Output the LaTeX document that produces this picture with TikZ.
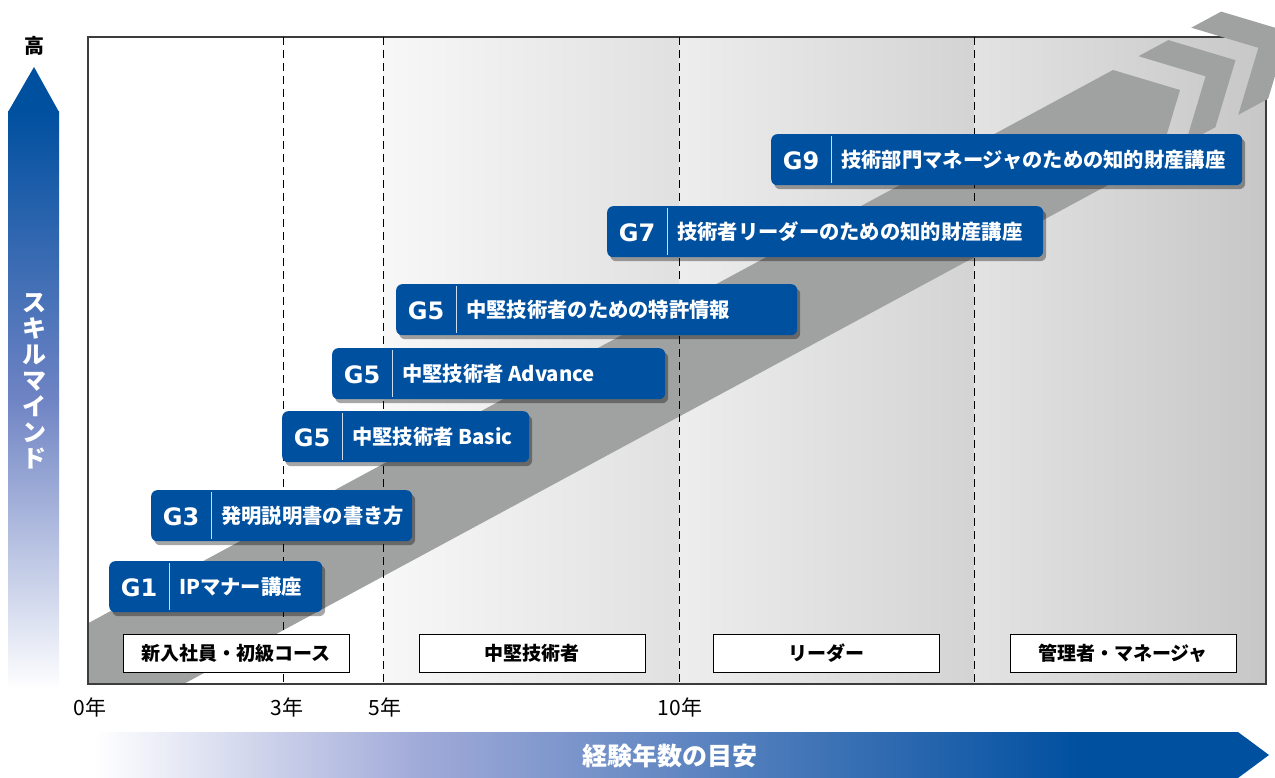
\documentclass[tikz,border=0pt]{standalone}
\usepackage{fontspec}
\setmainfont{Noto Sans CJK JP}
\newfontfamily\gradefont{DejaVu Sans}
\usetikzlibrary{shadows,calc}

\definecolor{ipblue}{HTML}{0050A0}
\definecolor{midblue}{HTML}{6F84C4}
\definecolor{lavender}{HTML}{A0AAD8}
\definecolor{bandgray}{HTML}{A0A1A1}
\definecolor{framegray}{HTML}{3C3C3C}

\begin{document}
\begin{tikzpicture}[x=1pt,y=-1pt,
    course/.style={fill=ipblue, rounded corners=6pt, minimum height=51pt, anchor=north west, inner sep=0pt,
      drop shadow={shadow xshift=3pt, shadow yshift=-4pt, opacity=0.35, fill=black}},
    grade/.style={text=white, font=\gradefont\fontsize{24}{24}\selectfont\bfseries},
    title/.style={text=white, font=\fontsize{20.3}{21}\selectfont\bfseries, anchor=west, inner sep=0pt},
    divline/.style={draw=white!80!ipblue, line width=1pt},
    stage/.style={draw=black, fill=white, line width=0.8pt, minimum width=226pt, minimum height=38pt,
      inner sep=0pt, font=\fontsize{19}{19}\selectfont\bfseries},
    year/.style={font=\fontsize{21}{21}\selectfont},
    yearline/.style={line width=1pt, dash pattern=on 8pt off 5pt}
  ]
  \useasboundingbox (0,0) rectangle (1275,778);
  \clip (0,0) rectangle (1275,778);

  % columns
  \shade[left color=black!3, right color=black!12] (383,37) rectangle (679,684);
  \shade[left color=black!7, right color=black!17] (679,37) rectangle (974,684);
  \shade[left color=black!11, right color=black!22] (974,37) rectangle (1266,684);

  % band and chevrons
  \begin{scope}
    \clip (88,37) rectangle (1266,684);
    \fill[bandgray] (-119,735) -- (1113,70) -- (1180,90) -- (1160,157) -- (-72,822) -- cycle;
  \end{scope}
  \draw[framegray, line width=1.5pt] (88,37) rectangle (1266,684);
  \fill[bandgray] (1138.5,56.2) -- (1168.4,40.1) -- (1235.5,60.2) -- (1215.4,127.2) -- (1185.5,143.3) -- (1205.6,76.3) -- cycle;
  \fill[bandgray] (1191.3,27.7) -- (1221.2,11.6) -- (1288.3,31.7) -- (1268.2,98.7) -- (1238.3,114.8) -- (1258.4,47.8) -- cycle;

  % years
  \foreach \x/\t in {90/0年, 287/3年, 385/5年, 680/10年}
    \node[year] (y\x) at (\x,707) {\t};
  \foreach \x in {283,383,679,974}
    \draw[yearline] (\x,37) -- (\x,684);

  % stages
  \node[stage] (s1) at (236,653) {新入社員・初級コース};
  \node[stage] (s2) at (532,653) {中堅技術者};
  \node[stage] (s3) at (826,653) {リーダー};
  \node[stage] (s4) at (1123,653) {管理者・マネージャ};

  % courses
  \foreach \n/\l/\t/\w/\g/\txt in {
      1/109/561/213/G1/IPマナー講座,
      2/151/490/261/G3/発明説明書の書き方,
      3/282/411/247/G5/中堅技術者 Basic,
      4/332/348/333/G5/中堅技術者 Advance,
      5/396/284/401/G5/中堅技術者のための特許情報,
      6/607/206/436/G7/技術者リーダーのための知的財産講座,
      7/771/134/471/G9/技術部門マネージャのための知的財産講座}{
    \node[course, minimum width=\w pt] (c\n) at (\l,\t) {};
    \node[grade] (g\n) at ($(c\n.west)+(30,1)$) {\g};
    \draw[divline] ([xshift=60pt,yshift=-2pt]c\n.north west) -- ([xshift=60pt,yshift=2pt]c\n.south west);
    \node[title] (t\n) at ($(c\n.west)+(70,0)$) {\txt};
  }

  % axes
  \fill[ipblue] (8,112) -- (34,67) -- (59,112) -- cycle;
  \shade[top color=ipblue, bottom color=midblue] (8,111.5) rectangle (59,400);
  \shade[top color=midblue, bottom color=white] (8,399.5) rectangle (59,690);
  \node[font=\fontsize{20}{20}\selectfont\bfseries] (high) at (34,46) {高};
  \node[text=white, align=center, font=\fontsize{24}{26}\selectfont\bfseries] (skill) at (34,381)
    {ス\\キ\\ル\\マ\\イ\\ン\\ド};

  \shade[left color=white, right color=lavender] (95,732) rectangle (420.5,778);
  \shade[left color=lavender, right color=ipblue] (420,732) rectangle (1080,778);
  \fill[ipblue] (1079.5,732) -- (1238,732) -- (1269,755) -- (1238,778) -- (1079.5,778) -- cycle;
  \node[text=white, font=\fontsize{25}{25}\selectfont\bfseries] (exp) at (670,756) {経験年数の目安};
\end{tikzpicture}
\end{document}
